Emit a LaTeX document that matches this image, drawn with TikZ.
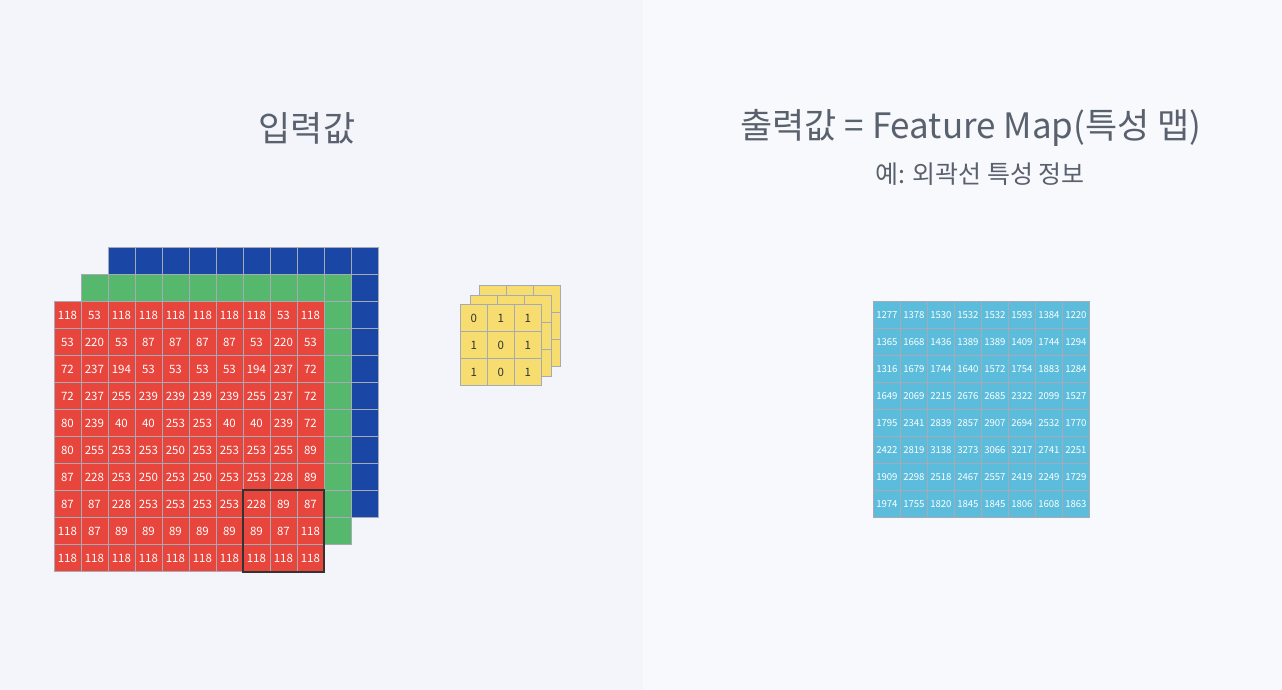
\documentclass[tikz,border=0pt]{standalone}
\usepackage{fontspec}
\setmainfont{Noto Sans CJK KR}
\usetikzlibrary{positioning}
\definecolor{cnnred}{RGB}{232, 69, 60}
\definecolor{cnngreen}{RGB}{85, 184, 108}
\definecolor{cnnblue}{RGB}{26, 71, 166}
\definecolor{cnnyellow}{RGB}{247, 220, 111}
\definecolor{cnncyan}{RGB}{91, 188, 220}
\definecolor{cnngrid}{RGB}{166, 170, 182}
\definecolor{cnntext}{RGB}{90, 97, 110}
\definecolor{leftbg}{RGB}{243, 245, 250}
\definecolor{rightbg}{RGB}{248, 249, 252}
\tikzset{
  cell/.style={draw=cnngrid, line width=0.8pt, minimum size=27pt, inner sep=0pt, anchor=north west},
  redcell/.style={cell, fill=cnnred, text=white, font=\fontsize{11.5}{12}\selectfont},
  outcell/.style={cell, fill=cnncyan, text=white, font=\fontsize{9.6}{10}\selectfont},
  kercell/.style={cell, fill=cnnyellow, text=black!80, font=\fontsize{11.5}{12}\selectfont},
  title/.style={text=cnntext, font=\fontsize{35}{40}\selectfont}
}

\begin{document}
\begin{tikzpicture}[x=1pt, y=-1pt]
  % Background panels
  \fill[leftbg] (0,0) rectangle (643,690);
  \fill[rightbg] (643,0) rectangle (1282,690);
  \useasboundingbox (0,0) rectangle (1282,690);

  % Titles
  \node[title] (intitle) at (307,128) {입력값};
  \node[title] (outtitle) at (971,128) {출력값 = Feature Map(특성 맵)};
  \node[text=cnntext, font=\fontsize{25}{28}\selectfont, below=9pt of outtitle, xshift=9pt] (outsub) {예: 외곽선 특성 정보};

  % Input channels (blue, green behind)
  \foreach \r in {1,...,10}
    \foreach \c in {1,...,10}
      \node[cell, fill=cnnblue] (blue-\r-\c) at ({107.5+27*(\c-1)},{247+27*(\r-1)}) {};
  \foreach \r in {1,...,10}
    \foreach \c in {1,...,10}
      \node[cell, fill=cnngreen] (green-\r-\c) at ({80.5+27*(\c-1)},{274+27*(\r-1)}) {};

  % Red channel with values
  \foreach \row [count=\r] in {
      {118,53,118,118,118,118,118,118,53,118},
      {53,220,53,87,87,87,87,53,220,53},
      {72,237,194,53,53,53,53,194,237,72},
      {72,237,255,239,239,239,239,255,237,72},
      {80,239,40,40,253,253,40,40,239,72},
      {80,255,253,253,250,253,253,253,255,89},
      {87,228,253,250,253,250,253,253,228,89},
      {87,87,228,253,253,253,253,228,89,87},
      {118,87,89,89,89,89,89,89,87,118},
      {118,118,118,118,118,118,118,118,118,118}}
    \foreach \v [count=\c] in \row
      \node[redcell] (red-\r-\c) at ({53.5+27*(\c-1)},{301+27*(\r-1)}) {\v};

  % Receptive field
  \draw[line width=2pt, black!80] (red-8-8.north west) rectangle (red-10-10.south east);

  % Kernel stack
  \foreach \dx/\dy [count=\k] in {19/-19, 9.5/-9.5}
    \foreach \r in {1,2,3}
      \foreach \c in {1,2,3}
        \node[kercell] (ker\k-\r-\c) at ({460+\dx+27*(\c-1)},{304+\dy+27*(\r-1)}) {};
  \foreach \row [count=\r] in {{0,1,1},{1,0,1},{1,0,1}}
    \foreach \v [count=\c] in \row
      \node[kercell] (kernel-\r-\c) at ({460+27*(\c-1)},{304+27*(\r-1)}) {\v};

  % Feature map
  \foreach \row [count=\r] in {
      {1277,1378,1530,1532,1532,1593,1384,1220},
      {1365,1668,1436,1389,1389,1409,1744,1294},
      {1316,1679,1744,1640,1572,1754,1883,1284},
      {1649,2069,2215,2676,2685,2322,2099,1527},
      {1795,2341,2839,2857,2907,2694,2532,1770},
      {2422,2819,3138,3273,3066,3217,2741,2251},
      {1909,2298,2518,2467,2557,2419,2249,1729},
      {1974,1755,1820,1845,1845,1806,1608,1863}}
    \foreach \v [count=\c] in \row
      \node[outcell] (out-\r-\c) at ({873+27*(\c-1)},{301+27*(\r-1)}) {\v};
\end{tikzpicture}
\end{document}
